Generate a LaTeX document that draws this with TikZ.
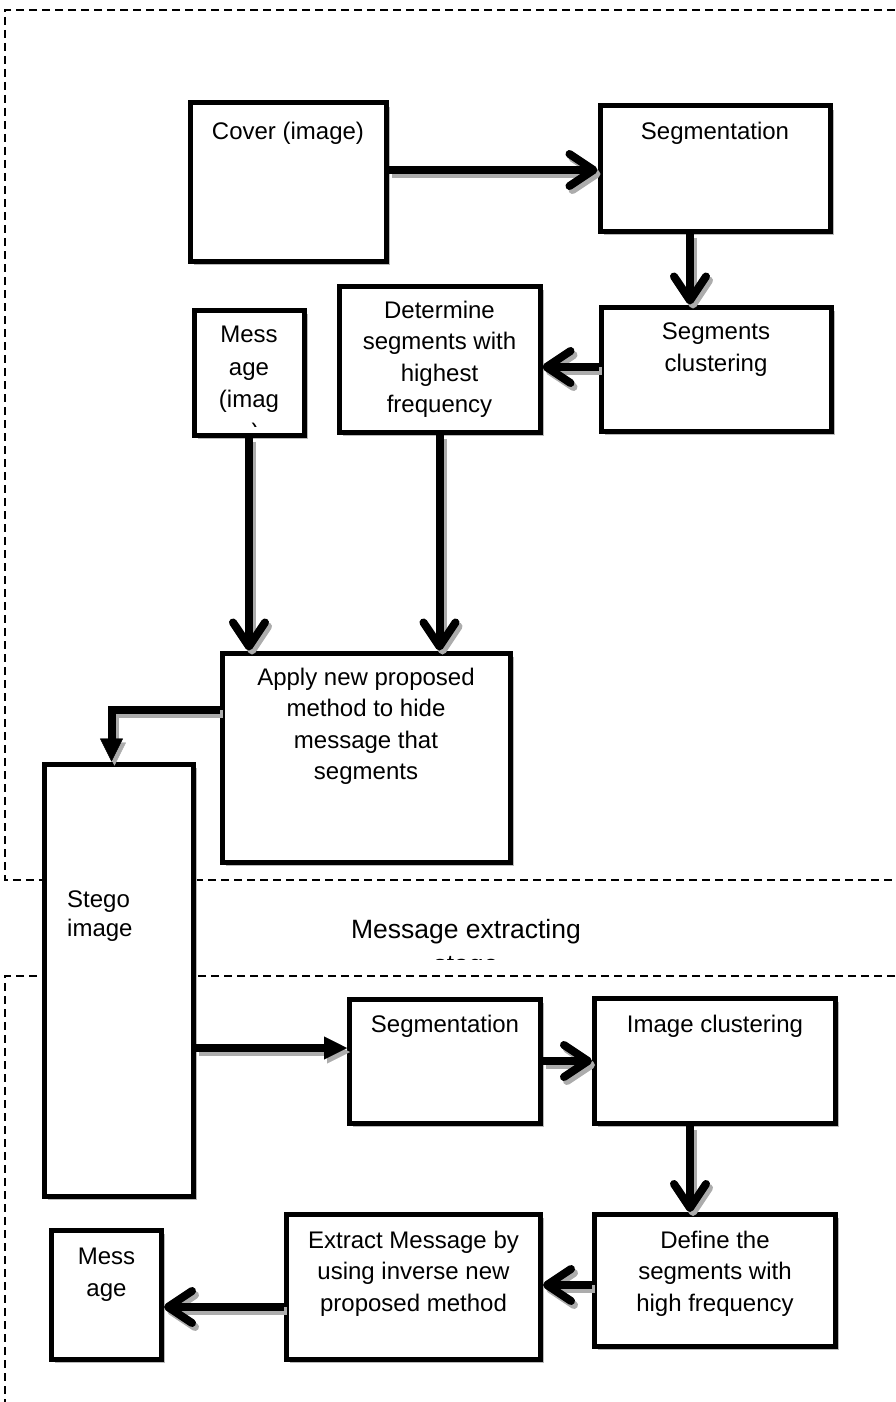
\documentclass[tikz,border=0pt]{standalone}
\usepackage{fontspec}
\setmainfont{Liberation Sans}
\usetikzlibrary{arrows.meta,shadows}
\tikzset{
  box/.style={draw, line width=5pt, fill=white, inner sep=0pt,
    drop shadow={shadow xshift=3.8pt, shadow yshift=-3.8pt, fill=gray!55, opacity=1}},
  txt/.style={inner sep=0pt, anchor=north, align=center, font=\fontsize{24}{31.5}\selectfont},
  arr/.style={line width=8pt, -{Straight Barb[length=24pt,width=32pt,round]}},
  tri/.style={line width=8pt, line join=miter, -{Triangle[length=23pt,width=23pt,line width=0.4pt]}},
  shad/.style={draw=gray!65, transform canvas={shift={(3pt,-4pt)}}},
  dashline/.style={line width=1.4pt, dash pattern=on 8pt off 5pt}
}
\newcommand\twoarrow[2]{\draw[#1,shad] #2; \draw[#1] #2;}
\begin{document}
\begin{tikzpicture}[x=1pt,y=-1pt]
\useasboundingbox (0,0) rectangle (895,1402);
% dashed regions
\draw[dashline] (895,10) -- (5,10) -- (5,880) -- (895,880);
\draw[dashline] (895,976) -- (5,976) -- (5,1402);

% boxes
\node[box, minimum width=196pt, minimum height=158pt] (cover) at (288,182) {};
\node[box, minimum width=230pt, minimum height=125pt] (seg1) at (715,168.5) {};
\node[box, minimum width=230pt, minimum height=124pt] (clust1) at (716,369) {};
\node[box, minimum width=201pt, minimum height=146pt] (det) at (439.5,359) {};
\node[box, minimum width=110pt, minimum height=125pt] (msg1) at (249,372.5) {};
\node[box, minimum width=288pt, minimum height=209pt] (apply) at (366,757.5) {};
\node[box, minimum width=149pt, minimum height=432pt] (stego) at (118.5,980) {};
\node[box, minimum width=191pt, minimum height=124pt] (seg2) at (445,1061.5) {};
\node[box, minimum width=241pt, minimum height=125pt] (clust2) at (715,1061) {};
\node[box, minimum width=241pt, minimum height=132pt] (define) at (715,1280.5) {};
\node[box, minimum width=254pt, minimum height=145pt] (extract) at (413.5,1287) {};
\node[box, minimum width=110pt, minimum height=129pt] (msg2) at (106.5,1295) {};

% texts
\node[txt] (tcover) at (288,121.8) {Cover (image)};
\node[txt] (tseg1) at (715,121.8) {Segmentation};
\node[txt] (tclust1) at (716,322.8) {Segments\\clustering};
\node[txt] (tdet) at (439.5,300.8) {Determine\\segments with\\highest\\frequency};
\begin{scope}
  \clip (194,310) rectangle (304,426);
  \node[txt, font=\fontsize{24}{32.5}\selectfont] (tmsg1) at (249,325.8) {Mess\\age\\(imag\\e)};
\end{scope}
\node[txt] (tapply) at (366,667.8) {Apply new proposed\\method to hide\\message that\\segments};
\node[txt, anchor=north west, align=left, font=\fontsize{24}{29}\selectfont] (tstego) at (67,890.8) {Stego\\image};
\begin{scope}
  \clip (250,900) rectangle (700,959);
  \node[txt, font=\fontsize{26.5}{35}\selectfont] (tstage) at (466,919) {Message extracting\\stage};
\end{scope}
\node[txt] (tseg2) at (445,1014.8) {Segmentation};
\node[txt] (tclust2) at (715,1014.8) {Image clustering};
\node[txt] (tdefine) at (715,1230.8) {Define the\\segments with\\high frequency};
\node[txt] (textract) at (413.5,1230.8) {Extract Message by\\using inverse new\\proposed method};
\node[txt] (tmsg2) at (106.5,1247.8) {Mess\\age};

% helper coordinates
\coordinate (ya1) at (0,170);
\coordinate (xa2) at (690,0);
\coordinate (ya3) at (0,367);
\coordinate (ya6) at (0,709.5);
\coordinate (xa6) at (111.5,0);
\coordinate (ya7) at (0,1048);
\coordinate (ya8) at (0,1061);
\coordinate (xa9) at (690,0);
\coordinate (ya10) at (0,1285);
\coordinate (ya11) at (0,1307);

% connectors
\twoarrow{arr}{(cover.east |- ya1) -- (seg1.west |- ya1)}
\twoarrow{arr}{(seg1.south -| xa2) -- (clust1.north -| xa2)}
\twoarrow{arr}{(clust1.west |- ya3) -- (det.east |- ya3)}
\twoarrow{arr}{(msg1.south) -- (apply.north -| msg1.south)}
\twoarrow{arr}{(det.south) -- (apply.north -| det.south)}
\twoarrow{tri}{(apply.west |- ya6) -| (stego.north -| xa6)}
\twoarrow{tri}{(stego.east |- ya7) -- (seg2.west |- ya7)}
\twoarrow{arr}{(seg2.east |- ya8) -- (clust2.west |- ya8)}
\twoarrow{arr}{(clust2.south -| xa9) -- (define.north -| xa9)}
\twoarrow{arr}{(define.west |- ya10) -- (extract.east |- ya10)}
\twoarrow{arr}{(extract.west |- ya11) -- (msg2.east |- ya11)}
\end{tikzpicture}
\end{document}
